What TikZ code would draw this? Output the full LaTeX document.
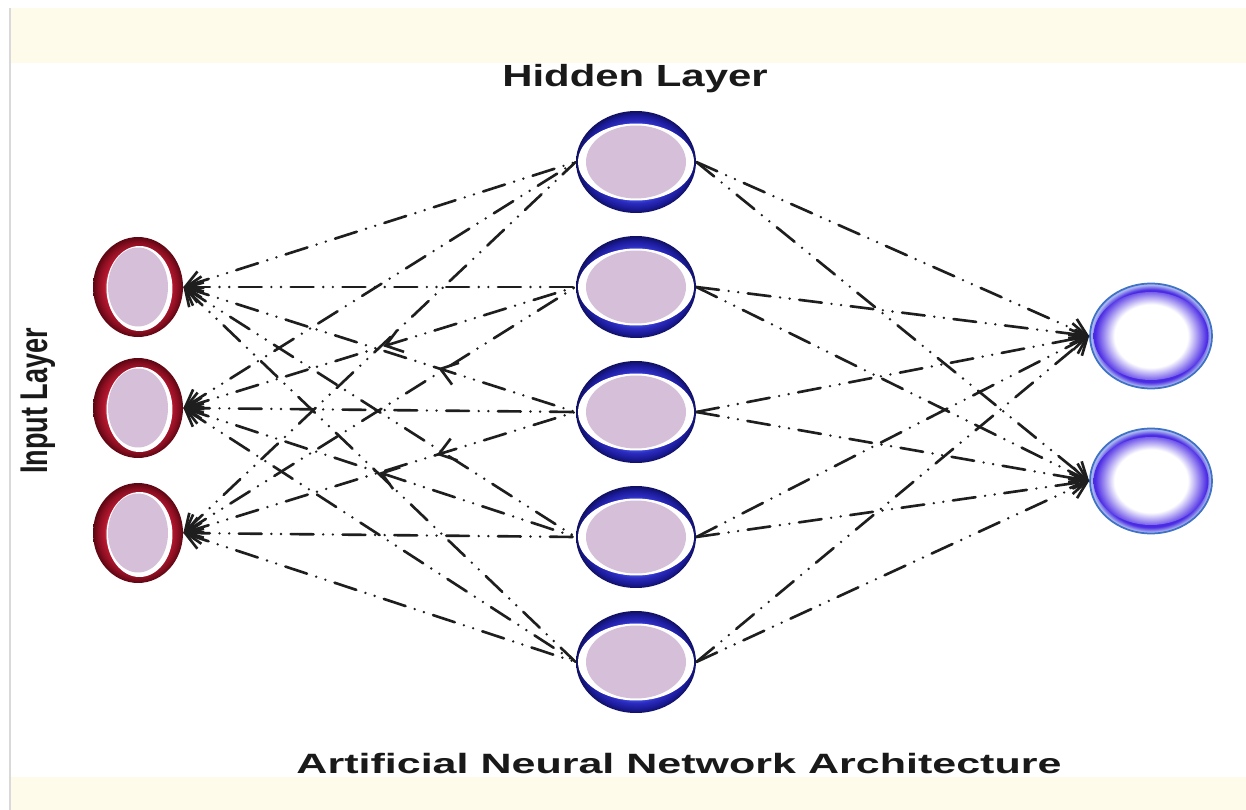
\documentclass[tikz,border=0pt]{standalone}
\usepackage{fontspec}
\setmainfont{Liberation Sans}
\usepackage{graphicx}
\usetikzlibrary{shapes.geometric,arrows.meta,decorations.markings}
\definecolor{cream}{HTML}{FEFBEB}
\definecolor{mauve}{HTML}{D6BFD9}
\definecolor{linec}{HTML}{1E1E1E}
\definecolor{inA}{HTML}{F6CDD3}
\definecolor{inB}{HTML}{B81830}
\definecolor{inC}{HTML}{8E0F22}
\definecolor{inD}{HTML}{5C0612}
\definecolor{hiA}{HTML}{4A5CF0}
\definecolor{hiB}{HTML}{2C2CC0}
\definecolor{hiC}{HTML}{1A1A98}
\definecolor{hiD}{HTML}{101060}
\definecolor{outA}{HTML}{4A2AE4}
\definecolor{outB}{HTML}{A8B4F0}
\definecolor{outE}{HTML}{3F72C4}
\pgfdeclareradialshading{inshade}{\pgfpoint{0bp}{0bp}}{color(0bp)=(inA); color(16bp)=(inA); color(18.5bp)=(inB); color(22bp)=(inC); color(25bp)=(inD); color(50bp)=(inD)}
\pgfdeclareradialshading{hidshade}{\pgfpoint{0bp}{0bp}}{color(0bp)=(hiA); color(18bp)=(hiA); color(20bp)=(hiB); color(23bp)=(hiC); color(25bp)=(hiD); color(50bp)=(hiD)}
\pgfdeclareradialshading{outshade}{\pgfpoint{0bp}{0bp}}{color(0bp)=(outA); color(22bp)=(outA); color(24.3bp)=(outB); color(25bp)=(outB); color(50bp)=(outB)}
\pgfdeclareradialshading{outinner}{\pgfpoint{0bp}{0bp}}{color(0bp)=(white); color(15bp)=(white); color(23bp)=(outA); color(50bp)=(outA)}
\begin{document}
\begin{tikzpicture}[x=0.02cm, y=-0.02cm,
  inp/.style={ellipse, minimum width=1.8cm, minimum height=2.0cm, inner sep=0pt, shade, shading=inshade,
    path picture={
      \fill[white] ([shift={(0.03cm,-0.03cm)}]path picture bounding box.center) ellipse [x radius=0.66cm, y radius=0.85cm];
      \fill[mauve] (path picture bounding box.center) ellipse [x radius=0.6cm, y radius=0.79cm];
    }},
  hid/.style={ellipse, minimum width=2.4cm, minimum height=2.04cm, inner sep=0pt, shade, shading=hidshade,
    path picture={
      \fill[white] (path picture bounding box.center) ellipse [x radius=1.16cm, y radius=0.77cm];
      \fill[mauve] (path picture bounding box.center) ellipse [x radius=1.0cm, y radius=0.73cm];
    }},
  outp/.style={ellipse, minimum width=2.44cm, minimum height=2.1cm, inner sep=0pt, shade, shading=outshade, draw=outE, line width=1pt,
    path picture={
      \shade[shading=outinner] (path picture bounding box.center) ellipse [x radius=1.15cm, y radius=0.88cm];
    }},
  conn/.style={draw=linec, line width=1.5pt, line cap=round, dash pattern=on 13pt off 5.5pt on 0pt off 5.5pt on 0pt off 5.5pt},
  >={Straight Barb[length=9pt,width=12pt]},
  midarr/.style={postaction={decorate, decoration={markings, mark=at position #1 with {\arrowreversed[linec, line width=1.5pt]{Straight Barb[length=9pt,width=13pt]}}}}},
  lab/.style={text=black!90, inner sep=0pt}
]
\useasboundingbox (0,0) rectangle (1246,810);
\fill[white] (0,0) rectangle (1246,810);
\fill[cream] (10,8) rectangle (1246,63);
\fill[cream] (10,777) rectangle (1246,810);
\draw[black!15, line width=0.8pt] (10,8) -- (10,810);

% nodes
\node[inp] (I1) at (138,287) {};
\node[inp] (I2) at (138,408) {};
\node[inp] (I3) at (138,533) {};
\node[hid] (H1) at (636,162) {};
\node[hid] (H2) at (636,287) {};
\node[hid] (H3) at (636,412) {};
\node[hid] (H4) at (636,537) {};
\node[hid] (H5) at (636,662) {};
\node[outp] (O1) at (1151,336) {};
\node[outp] (O2) at (1151,481) {};

% labels
\node[lab, anchor=base, font=\bfseries\fontsize{17.4}{20}\selectfont] (hl) at (635,87) {\scalebox{1.37}[1]{Hidden Layer}};
\node[lab, anchor=base, font=\bfseries\fontsize{15.9}{18}\selectfont] (al) at (679,773) {\scalebox{1.54}[1]{Artificial Neural Network Architecture}};
\node[lab, anchor=base, rotate=90, font=\bfseries\fontsize{22}{26}\selectfont] (il) at (47,401) {\scalebox{0.70}[1]{Input Layer}};

% connectors
\foreach \i in {1,2,3}{
  \foreach \h in {1,...,5}{
    \draw[conn,<-] (I\i.east) -- (H\h.west);
  }
}
\foreach \h in {1,...,5}{
  \foreach \o in {1,2}{
    \draw[conn,->] (H\h.east) -- (O\o.west);
  }
}
\path[midarr=0.51] (I2.east) -- (H2.west);
\path[midarr=0.65] (I1.east) -- (H3.west);
\path[midarr=0.646] (I3.east) -- (H3.west);
\path[midarr=0.5] (I2.east) -- (H4.west);
\end{tikzpicture}
\end{document}
